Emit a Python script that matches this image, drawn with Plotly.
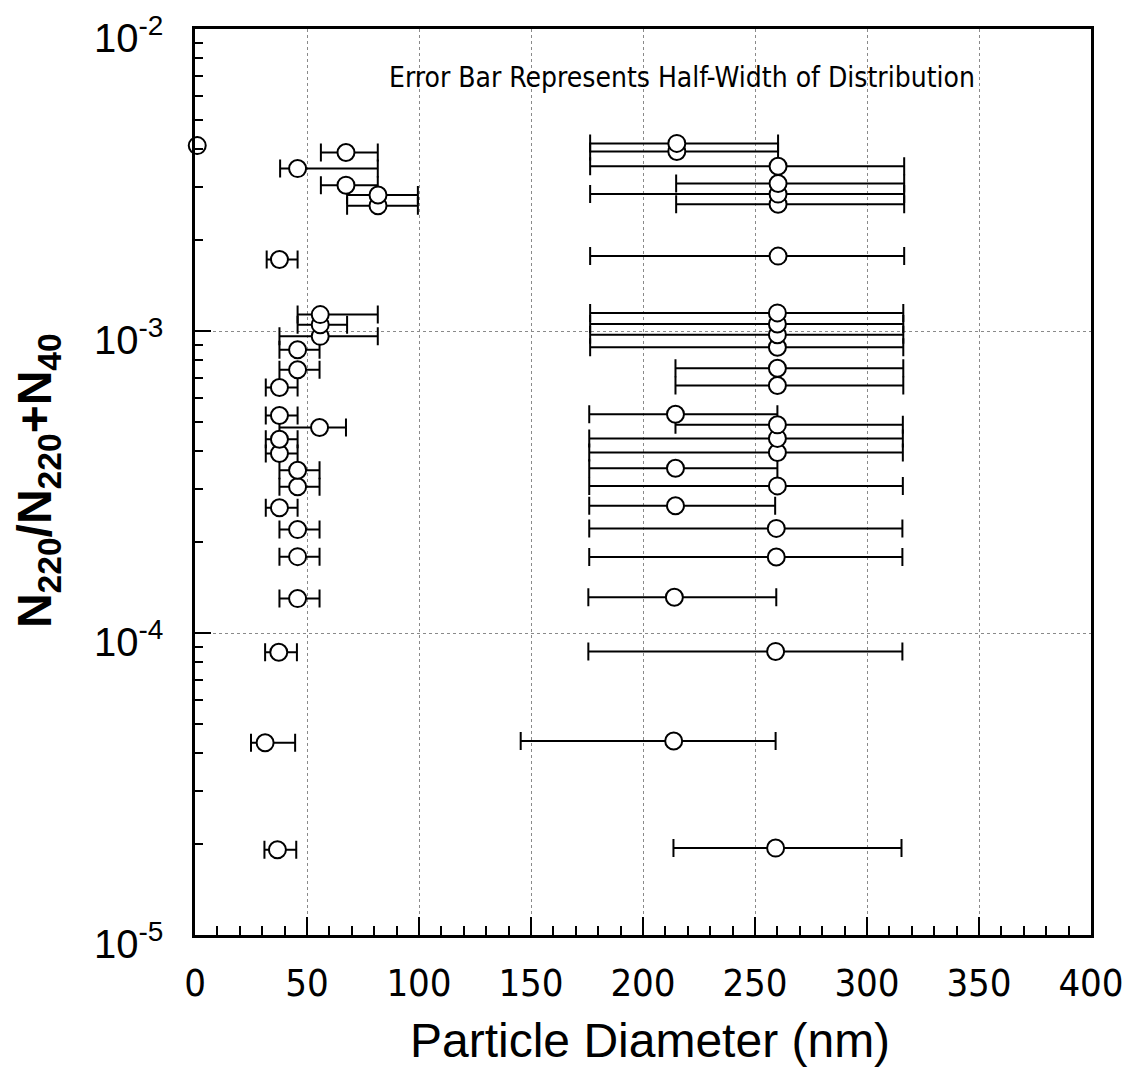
import math
import plotly.graph_objects as go

# ---- data ----
# small particles
small_d   = [1.0, 67.4, 45.8, 67.4, 81.7, 81.7, 37.7, 55.9, 55.9, 55.9, 45.8, 45.8, 37.7,
             37.7, 55.6, 37.7, 37.7, 45.8, 45.8, 37.7, 45.8, 45.8, 45.8, 37.4, 31.3, 36.8]
small_r   = [4.11e-3, 3.90e-3, 3.45e-3, 3.04e-3, 2.82e-3, 2.60e-3, 1.725e-3, 1.133e-3,
             1.049e-3, 0.960e-3, 0.867e-3, 0.744e-3, 0.650e-3, 0.525e-3, 0.479e-3,
             0.438e-3, 0.393e-3, 0.346e-3, 0.305e-3, 0.260e-3, 0.220e-3, 0.179e-3,
             0.130e-3, 8.63e-5, 4.33e-5, 1.915e-5]
small_lo  = [1.0, 56.2, 38.0, 56.2, 67.9, 67.9, 32.0, 45.8, 45.8, 37.7, 37.7, 37.7, 31.6,
             31.6, 37.7, 31.6, 31.6, 37.7, 37.7, 31.6, 37.7, 37.7, 37.7, 31.3, 25.0, 31.0]
small_hi  = [1.0, 81.6, 81.6, 81.6, 99.5, 99.5, 45.8, 81.6, 67.9, 81.6, 55.6, 55.6, 45.8,
             45.8, 67.4, 45.8, 45.8, 55.6, 55.6, 45.8, 55.6, 55.6, 55.6, 45.5, 44.7, 45.2]

# large particles
large_d   = [215.1, 215.1, 260.3, 260.3, 260.3, 260.3, 260.3, 260.0, 260.0, 260.0, 260.0,
             260.0, 260.0, 214.5, 260.0, 260.0, 260.0, 214.5, 260.0, 214.5, 259.5, 259.5,
             214.0, 259.2, 213.7, 259.2]
large_r   = [4.18e-3, 3.93e-3, 3.51e-3, 3.08e-3, 2.84e-3, 2.63e-3, 1.77e-3, 1.148e-3,
             1.055e-3, 0.972e-3, 0.883e-3, 0.753e-3, 0.660e-3, 0.530e-3, 0.489e-3,
             0.441e-3, 0.396e-3, 0.351e-3, 0.307e-3, 0.264e-3, 0.222e-3, 0.1785e-3,
             0.1314e-3, 8.69e-5, 4.39e-5, 1.94e-5]
large_lo  = [176.4, 176.4, 176.4, 214.8, 176.4, 214.8, 176.4, 176.4, 176.4, 176.4, 176.4,
             214.5, 214.5, 176.0, 214.5, 176.0, 176.0, 176.0, 176.0, 176.0, 176.0, 176.0,
             175.6, 175.6, 145.4, 213.6]
large_hi  = [260.3, 260.3, 316.6, 316.6, 316.6, 316.6, 316.6, 316.2, 316.2, 316.2, 316.2,
             316.2, 316.2, 260.0, 316.0, 316.0, 316.0, 260.0, 316.0, 259.0, 315.8, 315.8,
             259.5, 315.8, 259.2, 315.4]

x_ticks = [0, 50, 100, 150, 200, 250, 300, 350, 400]
y_ticks = [1e-5, 1e-4, 1e-3, 1e-2]
y_ticktext = ["10<sup>-5</sup>", "10<sup>-4</sup>", "10<sup>-3</sup>", "10<sup>-2</sup>"]

# ---- build table: draw lower values first so upper circles sit on top ----
rows = list(zip(small_d + large_d, small_r + large_r, small_lo + large_lo, small_hi + large_hi))
rows.sort(key=lambda r: r[1])
xs = [r[0] for r in rows]
ys = [r[1] for r in rows]
eplus = [r[3] - r[0] for r in rows]
eminus = [r[0] - r[2] for r in rows]

NARROW = "DejaVu Sans Condensed, Liberation Sans Narrow, Arial Narrow, sans-serif"
SANS = "Liberation Sans, Arial, Helvetica, sans-serif"

fig = go.Figure()
fig.add_trace(go.Scatter(
    x=xs, y=ys, mode="markers",
    marker=dict(symbol="circle", size=17, color="white",
                line=dict(color="black", width=2)),
    error_x=dict(type="data", symmetric=False, array=eplus, arrayminus=eminus,
                 color="black", thickness=2, width=9),
    showlegend=False, cliponaxis=False,
))

minor_y = [k * 10.0 ** e for e in (-5, -4, -3) for k in range(2, 10)]

# y tick labels as text placed at the tick values (slightly below centre, as in the original)
ytick_annots = [
    dict(text=t, xref="paper", yref="y", x=(165 - 195) / 896, y=math.log10(v),
         xanchor="right", yanchor="middle", showarrow=False, yshift=-6,
         font=dict(family=SANS, size=40, color="black"))
    for v, t in zip(y_ticks, y_ticktext)
]

fig.update_layout(
    width=1118, height=1075,
    margin=dict(l=187, r=35, t=21, b=148),
    paper_bgcolor="white", plot_bgcolor="white",
    xaxis=dict(
        range=[0, 400], tickmode="array", tickvals=x_ticks, automargin=False,
        ticks="inside", ticklen=18, tickwidth=2, tickcolor="black",
        showline=True, linewidth=3, linecolor="black", mirror=True,
        showgrid=True, gridcolor="#8a8a8a", griddash="dot", gridwidth=1,
        zeroline=False, ticklabeloverflow="allow",
        tickfont=dict(family=NARROW, size=38, color="black"),
        ticklabelstandoff=12,
        minor=dict(dtick=10, tick0=0, ticks="inside", ticklen=9, tickwidth=1.5,
                   tickcolor="black", showgrid=False),
    ),
    yaxis=dict(
        type="log", range=[-5, -2], tickmode="array", tickvals=y_ticks,
        showticklabels=False, automargin=False,
        ticks="inside", ticklen=16, tickwidth=2, tickcolor="black",
        showline=True, linewidth=3, linecolor="black", mirror=True,
        showgrid=True, gridcolor="#8a8a8a", griddash="dot", gridwidth=1,
        zeroline=False,
        minor=dict(tickmode="array", tickvals=minor_y, ticks="inside", ticklen=8,
                   tickwidth=1.5, tickcolor="black", showgrid=False),
    ),
    annotations=ytick_annots + [
        dict(text="Error Bar Represents Half-Width of Distribution",
             xref="paper", yref="paper", x=0.5435, y=0.946,
             xanchor="center", yanchor="middle", showarrow=False,
             font=dict(family=NARROW, size=28, color="black")),
        dict(text="Particle Diameter (nm)",
             xref="paper", yref="paper", x=0.508, y=-0.116,
             xanchor="center", yanchor="middle", showarrow=False,
             font=dict(family=SANS, size=48, color="black")),
        dict(text="<b>N<sub>220</sub>/N<sub>220</sub>+N<sub>40</sub></b>",
             xref="paper", yref="paper", x=(38 - 195) / 896, y=0.501,
             xanchor="center", yanchor="middle", showarrow=False, textangle=-90,
             font=dict(family=SANS, size=48, color="black")),
    ],
)

fig.write_html("out.html")
